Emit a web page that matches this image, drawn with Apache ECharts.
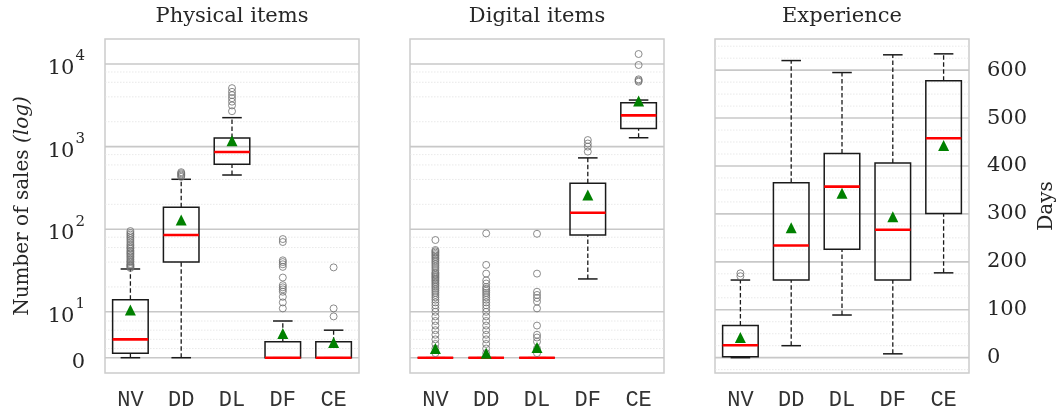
<!DOCTYPE html>
<html>
<head>
<meta charset="utf-8">
<script src="https://cdn.jsdelivr.net/npm/echarts@6/dist/echarts.min.js"></script>
<style>
  html, body { margin: 0; background: #fff; }
  #chart { width: 1058px; height: 413px; }
</style>
</head>
<body>
<div id="chart"></div>
<script>
const categories = ["NV", "DD", "DL", "DF", "CE"];
const panelTitles = ["Physical items", "Digital items", "Experience"];

// boxes: [whisker low, Q1, median, Q3, whisker high]
const physicalBoxes = [[0, 1, 4, 14, 33], [0, 40, 85, 184, 402], [453, 610, 860, 1272, 2240], [0, 0, 0, 3.5, 8], [0, 0, 0, 3.5, 6]];
const physicalMeans = [10.5, 129, 1175, 5.3, 3.3];
const physicalOutliers = [
  [34, 35, 36, 37, 38, 40, 41, 43, 45, 47, 49, 51, 53, 55, 58, 60, 63, 66, 70, 74, 78, 82, 86, 90, 95],
  [430, 445, 460, 475, 490],
  [2680, 3150, 3500, 3850, 4200, 4600, 5100],
  [11, 13, 15.2, 17.5, 18.7, 19.8, 21, 26, 35, 37.6, 40, 42, 70, 76],
  [9, 11, 34.5]
];

const digitalBoxes = [[0, 0, 0, 0, 0], [0, 0, 0, 0, 0], [0, 0, 0, 0, 0], [25, 85, 158, 359, 730], [1280, 1660, 2390, 3400, 3660]];
const digitalMeans = [2.0, 1.0, 2.2, 259, 3570];
const digitalOutliers = [
  [1, 2, 3, 4, 5, 6, 7, 8, 9, 10, 11, 12, 13, 14, 15, 16, 17, 18, 19, 20, 21, 22, 23, 24, 25, 26, 27, 28, 29, 30, 32, 34, 36, 38, 40, 42, 44, 46, 48, 50, 52, 54, 56, 74],
  [1, 2, 3, 4, 5, 6, 7, 8, 9, 10, 11, 12, 13, 14, 15, 16, 17, 18, 19, 20, 22, 24, 29, 37, 89],
  [1, 2, 3.5, 4.4, 5, 7, 11, 13.3, 14.7, 16, 17.5, 29, 88],
  [870, 1000, 1090, 1200],
  [6100, 6300, 6520, 9720, 13200]
];

const experienceBoxes = [[0, 2, 26, 67, 162], [25, 162, 234, 365, 620], [89, 226, 357, 426, 595], [8, 162, 267, 406, 632], [177, 301, 458, 578, 634]];
const experienceMeans = [42, 271, 343, 294, 443];
const experienceOutliers = [[170, 176], [], [], [], []];

const salesTicks = [0, 10, 100, 1000, 10000];
const salesTickLabels = ["0", "10|1", "10|2", "10|3", "10|4"];
const salesMinorTicks = [2, 4, 6, 8, 20, 40, 60, 80, 200, 400, 600, 800, 2000, 4000, 6000, 8000];
const dayTicks = [0, 100, 200, 300, 400, 500, 600];
const dayMinorTicks = [-25, 25, 50, 75, 125, 150, 175, 225, 250, 275, 325, 350, 375, 425, 450, 475, 525, 550, 575, 625, 650];

// symlog, linthresh 10, linscale 0.5
const LIN = 0.5 / (1 - 1 / 10);
function symlog(v) {
  return v <= 10 ? v / 10 * LIN : LIN + Math.log10(v / 10);
}

const serif = "DejaVu Serif";
const mono = "'Liberation Mono', 'Courier New', Courier, monospace";
const textColor = "#262626";
const grids = [105, 410, 715].map(l => ({ left: l, top: 39, width: 254, height: 334, show: true, borderColor: "#cccccc", borderWidth: 1.5, backgroundColor: "transparent" }));

function boxData(boxes, f) {
  return boxes.map((b, i) => [i].concat(b.map(f)));
}
function pointData(values, f) {
  return values.map((v, i) => [i, f(v)]);
}
function outlierData(lists, f) {
  const out = [];
  lists.forEach((l, i) => l.forEach(v => out.push([i, f(v)])));
  return out;
}

function renderBox(params, api) {
  const c = api.value(0);
  const lo = api.coord([c, api.value(1)]);
  const q1 = api.coord([c, api.value(2)]);
  const med = api.coord([c, api.value(3)]);
  const q3 = api.coord([c, api.value(4)]);
  const hi = api.coord([c, api.value(5)]);
  const bw = api.size([1, 0])[0] * 0.7;
  const cw = bw * 0.55;
  const x = lo[0];
  const dash = { stroke: "#1a1a1a", lineWidth: 1.3, lineDash: [4.5, 2.5] };
  const solid = { stroke: "#1a1a1a", lineWidth: 1.5 };
  return {
    type: "group",
    children: [
      { type: "line", shape: { x1: x, y1: q3[1], x2: x, y2: hi[1] }, style: dash },
      { type: "line", shape: { x1: x, y1: lo[1], x2: x, y2: q1[1] }, style: dash },
      { type: "line", shape: { x1: x - cw / 2, y1: hi[1], x2: x + cw / 2, y2: hi[1] }, style: solid },
      { type: "line", shape: { x1: x - cw / 2, y1: lo[1], x2: x + cw / 2, y2: lo[1] }, style: solid },
      { type: "rect", shape: { x: x - bw / 2, y: q3[1], width: bw, height: q1[1] - q3[1] }, style: { fill: "none", stroke: "#1a1a1a", lineWidth: 1.5 } },
      { type: "line", shape: { x1: x - bw / 2, y1: med[1], x2: x + bw / 2, y2: med[1] }, style: { stroke: "#ff0000", lineWidth: 2.6 } }
    ]
  };
}

function renderGridLine(params, api) {
  const cs = params.coordSys;
  const y = api.coord([0, api.value(0)])[1];
  const major = api.value(1) === 1;
  return {
    type: "line",
    shape: { x1: cs.x, y1: y, x2: cs.x + cs.width, y2: y },
    style: major ? { stroke: "#c8c8c8", lineWidth: 1.6 } : { stroke: "#e3e3e3", lineWidth: 0.8, lineDash: [1.5, 1.5] }
  };
}

const salesGridData = salesTicks.map(v => [symlog(v), 1]).concat(salesMinorTicks.map(v => [symlog(v), 0]));
const dayGridData = dayTicks.map(v => [v, 1]).concat(dayMinorTicks.map(v => [v, 0]));

const xAxes = [0, 1, 2].map(g => ({
  type: "category", gridIndex: g, data: categories,
  axisLine: { show: false },
  axisTick: { alignWithLabel: true, length: 7, lineStyle: { color: "#333", width: 1.5 } },
  axisLabel: { fontFamily: mono, fontSize: 22, color: "#333333", margin: 16 }
}));

const salesMin = -0.185, salesMax = 3.858;
const dayMin = -32, dayMax = 665;

const yAxes = [
  {
    type: "value", gridIndex: 0, min: salesMin, max: salesMax, position: "left",
    name: "{a|Number of sales }{b|(log)}", nameLocation: "middle", nameRotate: 90, nameGap: 72,
    nameTextStyle: { rich: { a: { fontFamily: serif, fontSize: 20, color: textColor }, b: { fontFamily: serif, fontStyle: "italic", fontSize: 20, color: textColor } } },
    axisLine: { show: false }, splitLine: { show: false },
    axisTick: { customValues: salesTicks.map(symlog), length: 8, lineStyle: { color: "#333", width: 1.8 } },
    axisLabel: {
      customValues: salesTicks.map(symlog), margin: 20,
      formatter: v => {
        let i = 0;
        salesTicks.forEach((t, k) => { if (Math.abs(symlog(t) - v) < 1e-6) i = k; });
        const p = salesTickLabels[i].split("|");
        return p.length > 1 ? "{b|" + p[0] + "}{s|" + p[1] + "}" : "{b|" + p[0] + "}";
      },
      rich: {
        b: { fontFamily: serif, fontSize: 21, color: textColor, lineHeight: 30, verticalAlign: "bottom" },
        s: { fontFamily: serif, fontSize: 15, color: textColor, lineHeight: 30, verticalAlign: "top", padding: [0, 0, 0, 1] }
      }
    }
  },
  {
    type: "value", gridIndex: 0, min: salesMin, max: salesMax, position: "left",
    axisLine: { show: false }, splitLine: { show: false }, axisLabel: { show: false },
    axisTick: { customValues: salesMinorTicks.map(symlog), length: 4, lineStyle: { color: "#333", width: 1.3 } }
  },
  {
    type: "value", gridIndex: 1, min: salesMin, max: salesMax,
    axisLine: { show: false }, splitLine: { show: false }, axisLabel: { show: false }, axisTick: { show: false }
  },
  {
    type: "value", gridIndex: 2, min: dayMin, max: dayMax, position: "right",
    name: "Days", nameLocation: "middle", nameRotate: 90, nameGap: 68,
    nameTextStyle: { fontFamily: serif, fontSize: 20, color: textColor },
    axisLine: { show: false }, splitLine: { show: false },
    axisTick: { customValues: dayTicks, length: 8, lineStyle: { color: "#333", width: 1.8 } },
    axisLabel: { customValues: dayTicks, margin: 18, fontFamily: serif, fontSize: 21, color: textColor }
  },
  {
    type: "value", gridIndex: 2, min: dayMin, max: dayMax, position: "right",
    axisLine: { show: false }, splitLine: { show: false }, axisLabel: { show: false },
    axisTick: { customValues: dayMinorTicks, length: 4, lineStyle: { color: "#333", width: 1.3 } }
  }
];

const panels = [
  { boxes: physicalBoxes, means: physicalMeans, outliers: physicalOutliers, f: symlog, y: 0, grid: salesGridData },
  { boxes: digitalBoxes, means: digitalMeans, outliers: digitalOutliers, f: symlog, y: 2, grid: salesGridData },
  { boxes: experienceBoxes, means: experienceMeans, outliers: experienceOutliers, f: v => v, y: 3, grid: dayGridData }
];

const series = [];
panels.forEach((p, g) => {
  series.push({
    type: "custom", xAxisIndex: g, yAxisIndex: p.y, z: 1, silent: true,
    renderItem: renderGridLine, data: p.grid, encode: { y: 0 }
  });
  series.push({
    type: "custom", xAxisIndex: g, yAxisIndex: p.y, z: 3, silent: true,
    renderItem: renderBox, data: boxData(p.boxes, p.f), encode: { x: 0, y: [1, 2, 3, 4, 5] }
  });
  series.push({
    type: "scatter", xAxisIndex: g, yAxisIndex: p.y, z: 4, silent: true,
    symbol: "circle", symbolSize: 7,
    itemStyle: { color: "rgba(0,0,0,0)", borderColor: "#6e6e6e", borderWidth: 0.8, opacity: 1 },
    data: outlierData(p.outliers, p.f)
  });
  series.push({
    type: "scatter", xAxisIndex: g, yAxisIndex: p.y, z: 5, silent: true,
    symbol: "triangle", symbolSize: 11, itemStyle: { color: "#008000", opacity: 1 },
    data: pointData(p.means, p.f)
  });
});

const option = {
  animation: false,
  backgroundColor: "#ffffff",
  title: panelTitles.map((t, i) => ({
    text: t, left: [227, 532, 837][i], top: 1, textAlign: "center",
    textStyle: { fontFamily: serif, fontSize: 21, fontWeight: "normal", color: textColor }
  })),
  grid: grids,
  xAxis: xAxes,
  yAxis: yAxes,
  series: series
};

const myChart = echarts.init(document.getElementById("chart"));
myChart.setOption(option);
</script>
</body>
</html>
